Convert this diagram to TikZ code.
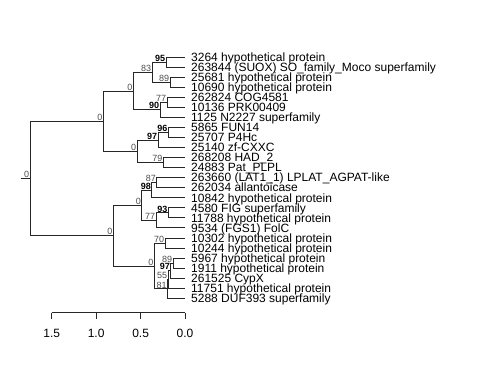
\documentclass[tikz,border=0pt]{standalone}
\usepackage{fontspec}
\setmainfont{Liberation Sans}
\usepackage{tikz}

\tikzset{
  tip/.style={anchor=west,inner xsep=6pt,inner ysep=0pt,text height=8.6pt,text depth=0pt,font=\fontsize{12}{12}\selectfont},
  bs/.style={anchor=south east,inner sep=0.6pt,text height=6.5pt,text depth=0pt,font=\fontsize{9}{9}\selectfont,text=black!70},
  bsb/.style={bs,font=\fontsize{9}{9}\selectfont\bfseries,text=black},
  br/.style={draw=black!85,line width=0.8pt},
  tk/.style={inner sep=0pt,text height=8.6pt,text depth=0pt,font=\fontsize{12}{12}\selectfont},
}

\begin{document}
\begin{tikzpicture}[x=1pt,y=-1pt]
\useasboundingbox (0,0) rectangle (480,384);

% tips
\node [tip] (t0) at(185,57.0){3264 hypothetical protein};
\node [tip] (t1) at(185,67.05){263844 (SUOX) SO\_family\_Moco superfamily};
\node [tip] (t2) at(185,77.1){25681 hypothetical protein};
\node [tip] (t3) at(185,87.15){10690 hypothetical protein};
\node [tip] (t4) at(185,97.2){262824 COG4581};
\node [tip] (t5) at(185,107.25){10136 PRK00409};
\node [tip] (t6) at(185,117.3){1125 N2227 superfamily};
\node [tip] (t7) at(185,127.35){5865 FUN14};
\node [tip] (t8) at(185,137.4){25707 P4Hc};
\node [tip] (t9) at(185,147.45){25140 zf-CXXC};
\node [tip] (t10) at(185,157.5){268208 HAD\_2};
\node [tip] (t11) at(185,167.55){24883 Pat\_PLPL};
\node [tip] (t12) at(185,177.6){263660 (LAT1\_1) LPLAT\_AGPAT-like};
\node [tip] (t13) at(185,187.65){262034 allantoicase};
\node [tip] (t14) at(185,197.7){10842 hypothetical protein};
\node [tip] (t15) at(185,207.75){4580 FIG superfamily};
\node [tip] (t16) at(185,217.8){11788 hypothetical protein};
\node [tip] (t17) at(185,227.85){9534 (FGS1) FolC};
\node [tip] (t18) at(185,237.9){10302 hypothetical protein};
\node [tip] (t19) at(185,247.95){10244 hypothetical protein};
\node [tip] (t20) at(185,258.0){5967 hypothetical protein};
\node [tip] (t21) at(185,268.05){1911 hypothetical protein};
\node [tip] (t22) at(185,278.1){261525 CypX};
\node [tip] (t23) at(185,288.15){11751 hypothetical protein};
\node [tip] (t24) at(185,298.2){5288 DUF393 superfamily};

% inner nodes
\coordinate (stub) at(20.5,178.3);
\coordinate (root) at(30,178.3);
\coordinate (up) at(103.3,121.1);
\coordinate (lo) at(113.3,235.5);
\coordinate (up1) at(133.3,90.9);
\coordinate (up2) at(137,151.2);
\coordinate (a) at(152,72.1);
\coordinate (a1) at(166,62.0);
\coordinate (a2) at(170,82.1);
\coordinate (b) at(160,109.75);
\coordinate (b1) at(167,102.2);
\coordinate (c) at(158,139.9);
\coordinate (c1) at(168.3,132.4);
\coordinate (d) at(163.3,162.5);
\coordinate (lo1) at(141.7,205.2);
\coordinate (e) at(151.7,190.2);
\coordinate (e1) at(156.7,182.6);
\coordinate (f) at(156,220.3);
\coordinate (f1) at(168.3,212.8);
\coordinate (lo2) at(154.3,265.9);
\coordinate (g) at(165,242.9);
\coordinate (h1) at(173,263.0);
\coordinate (h2) at(170.7,270.6);
\coordinate (h3) at(168,279.4);
\coordinate (h4) at(167.5,288.8);

% branches
\draw[br](stub) -- (root);
\draw[br](root) |- (up) (root) |- (lo);
\draw[br](up) |- (up1) (up) |- (up2);
\draw[br](up1) |- (a) (up1) |- (b);
\draw[br](a) |- (a1) (a) |- (a2);
\draw[br](a1) |- (t0) (a1) |- (t1);
\draw[br](a2) |- (t2) (a2) |- (t3);
\draw[br](b) |- (b1) (b) |- (t6);
\draw[br](b1) |- (t4) (b1) |- (t5);
\draw[br](up2) |- (c) (up2) |- (d);
\draw[br](c) |- (c1) (c) |- (t9);
\draw[br](c1) |- (t7) (c1) |- (t8);
\draw[br](d) |- (t10) (d) |- (t11);
\draw[br](lo) |- (lo1) (lo) |- (lo2);
\draw[br](lo1) |- (e) (lo1) |- (f);
\draw[br](e) |- (e1) (e) |- (t14);
\draw[br](e1) |- (t12) (e1) |- (t13);
\draw[br](f) |- (f1) (f) |- (t17);
\draw[br](f1) |- (t15) (f1) |- (t16);
\draw[br](lo2) |- (g) (lo2) |- (h4);
\draw[br](g) |- (t18) (g) |- (t19);
\draw[br](h4) |- (h3) (h4) |- (t24);
\draw[br](h3) |- (h2) (h3) |- (t23);
\draw[br](h2) |- (h1) (h2) |- (t22);
\draw[br](h1) |- (t20) (h1) |- (t21);

% support values
\node [bs] (root-bs) at(root){0};
\node [bs] (up-bs) at(up){0};
\node [bs] (lo-bs) at(lo){0};
\node [bs] (up1-bs) at(up1){0};
\node [bs] (up2-bs) at(up2){0};
\node [bs] (a-bs) at(a){83};
\node [bsb] (a1-bs) at(a1){95};
\node [bs] (a2-bs) at(a2){89};
\node [bsb] (b-bs) at(b){90};
\node [bs] (b1-bs) at(b1){77};
\node [bsb] (c-bs) at(c){97};
\node [bsb] (c1-bs) at(c1){96};
\node [bs] (d-bs) at(d){79};
\node [bs] (lo1-bs) at(lo1){0};
\node [bsb] (e-bs) at(e){98};
\node [bs] (e1-bs) at(e1){87};
\node [bs] (f-bs) at(f){77};
\node [bsb] (f1-bs) at(f1){93};
\node [bs] (lo2-bs) at(lo2){0};
\node [bs] (g-bs) at(g){70};
\node [bs] (h1-bs) at(h1){89};
\node [bsb] (h2-bs) at(h2){97};
\node [bs] (h3-bs) at(h3){55};
\node [bs] (h4-bs) at(h4){81};

% axis
\coordinate (ax15) at(51.7,312.7);
\coordinate (ax10) at(96.1,312.7);
\coordinate (ax05) at(140.6,312.7);
\coordinate (ax00) at(185,312.7);
\node [tk] (lb15) at(51.7,333){1.5};
\node [tk] (lb10) at(96.1,333){1.0};
\node [tk] (lb05) at(140.6,333){0.5};
\node [tk] (lb00) at(185,333){0.0};
\draw[br](ax15) -- (ax00);
\draw[br](ax15) -- ++(0,6) (ax10) -- ++(0,6) (ax05) -- ++(0,6) (ax00) -- ++(0,6);
%\draw[br](ax00) -- (lb00);

\end{tikzpicture}
\end{document}
